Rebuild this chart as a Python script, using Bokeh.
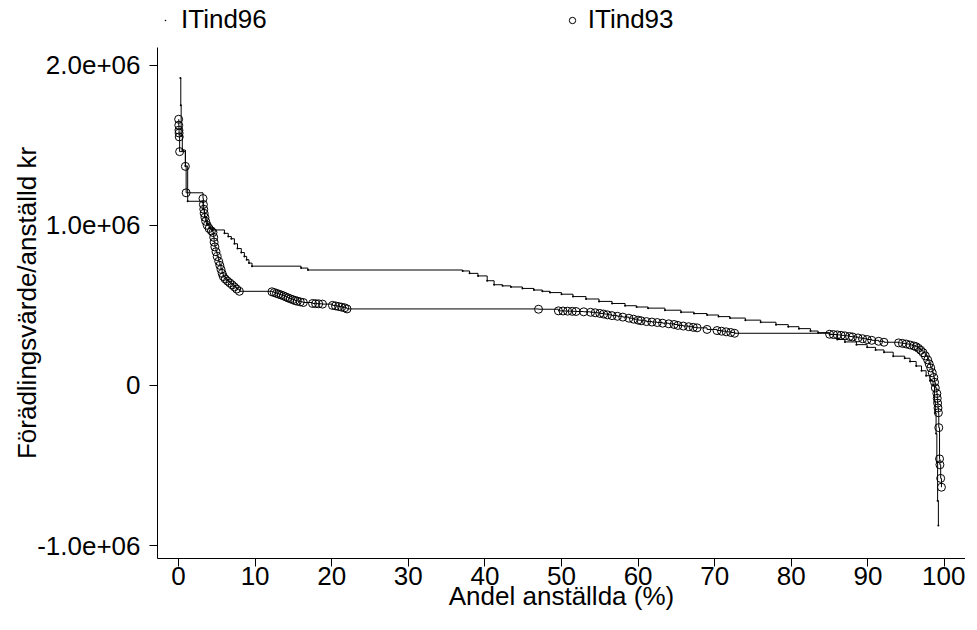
from bokeh.plotting import figure
from bokeh.layouts import column
from bokeh.models import Legend, LegendItem, FixedTicker, Range1d
from bokeh.embed import file_html
from bokeh.resources import INLINE

# ITind93: share of employees (%) and value added per employee (kr)
it93_x = [0.02, 0.04, 0.06, 0.08, 0.10, 0.15, 0.9, 1.0, 3.2,
          3.25, 3.3, 3.35, 3.45, 3.55, 3.75, 4.0, 4.3, 4.5, 4.6, 4.65, 4.75, 4.9,
          5.05, 5.25, 5.4, 5.55, 5.7, 5.85, 6.1, 6.4, 6.7, 7.0, 7.3, 7.6, 7.95,
          12.2, 12.5, 12.8, 13.1, 13.4, 13.7, 14.0, 14.3, 14.6, 14.9, 15.2, 15.5,
          15.9, 16.3, 17.5, 17.9, 18.3, 18.8, 20.1, 20.5, 20.9, 21.3, 21.7, 22.0,
          47.0, 49.6, 50.2, 50.8, 51.4, 51.9, 52.9, 53.8, 54.4, 55.0, 55.5, 56.0,
          56.6, 57.3, 58.0, 58.8, 59.4, 60.0, 60.4, 61.1, 61.8, 62.5, 63.2, 64.0,
          64.7, 65.2, 65.9, 66.6, 67.2, 67.7, 69.0, 70.3, 70.9, 71.5, 72.1, 72.6,
          85.0, 85.5, 86.0, 86.5, 87.0, 87.6, 88.0, 88.7, 89.3, 89.9, 90.5, 91.4,
          92.1, 94.0, 94.5, 95.0, 95.5, 96.0, 96.3, 96.6, 96.9, 97.2, 97.5, 97.8,
          98.0, 98.2, 98.4, 98.6, 98.7, 98.8, 99.0, 99.05, 99.1, 99.15, 99.2,
          99.25, 99.35, 99.4, 99.5, 99.6]
it93_y = [1662000, 1625000, 1594000, 1576000, 1552000, 1460000, 1368000, 1203000, 1167000,
          1130000, 1100000, 1075000, 1050000, 1025000, 1000000, 980000, 965000, 955000,
          925000, 895000, 865000, 835000,
          805000, 775000, 750000, 725000, 700000, 680000, 665000, 652000, 640000, 628000,
          615000, 602000, 588000,
          585000, 580000, 575000, 570000, 565000, 560000, 553000, 547000, 541000, 536000,
          531000, 527000,
          522000, 518000, 512000, 511000, 510000, 508000, 500000, 497000, 493000, 489000,
          485000, 478000,
          476000, 466000, 465000, 464000, 463000, 462000, 460000, 457000, 454000, 450000,
          446000, 441000,
          436000, 432000, 427000, 420000, 414000, 408000, 404000, 399000, 396000, 393000,
          389000, 385000,
          381000, 375000, 371000, 367000, 363000, 360000, 350000, 343000, 339000, 335000,
          331000, 326000,
          320000, 318000, 316000, 313000, 310000, 306000, 303000, 297000, 292000, 287000,
          282000, 276000,
          270000, 266000, 263000, 259000, 253000, 247000, 242000, 232000, 220000, 205000,
          185000, 160000,
          135000, 110000, 80000, 50000, 20000, -15000, -50000, -80000, -110000, -140000,
          -170000,
          -263000, -458000, -495000, -580000, -635000]

# ITind96
it96_x = [0.25, 0.3, 0.35, 0.5, 0.9, 1.2, 3.2, 3.4, 3.7, 4.1, 4.5, 6.0, 6.5, 6.9, 7.3,
          7.7, 8.2, 8.6, 8.9, 9.2, 9.6, 16.0, 16.9, 37.1, 38.0, 39.1, 40.3, 41.2, 42.3,
          43.4, 44.9, 46.4, 47.5, 48.5, 50.0, 51.5, 53.2, 54.9, 56.6, 58.3, 59.8, 61.3,
          63.5, 65.6, 67.3, 69.0, 70.5, 72.0, 74.0, 76.0, 78.0, 79.6, 81.0, 82.5, 83.5,
          85.0, 86.0, 87.0, 88.5, 89.9, 91.0, 92.1, 93.3, 94.8, 95.5, 96.3, 97.0, 97.6,
          98.1, 98.5, 98.7, 98.8, 98.9, 99.0, 99.1, 99.2]
it96_y = [1920000, 1750000, 1560000, 1470000, 1370000, 1150000, 1100000, 1050000, 1010000,
          985000, 971000, 950000, 930000, 916000, 885000, 855000, 830000, 806000, 785000,
          764000, 745000, 733000, 721000, 715000, 700000, 684000, 654000, 629000, 622000,
          615000, 606000, 596000, 588000, 580000, 570000, 555000, 540000, 525000, 512000,
          498000, 490000, 483000, 470000, 458000, 449000, 440000, 430000, 421000, 408000,
          395000, 380000, 367000, 355000, 340000, 330000, 318000, 287000, 272000, 255000,
          238000, 222000, 208000, 183000, 170000, 150000, 122000, 92000, 61000, 30000, 0,
          -100000, -171000, -300000, -476000, -720000, -874000]

series_names = ["ITind96", "ITind93"]
x_ticks = [0, 10, 20, 30, 40, 50, 60, 70, 80, 90, 100]
y_ticks = [-1000000, 0, 1000000, 2000000]
y_tick_labels = {-1000000: "-1.0e+06", 0: "0", 1000000: "1.0e+06", 2000000: "2.0e+06"}

FONT = "Liberation Sans"
FS = "26px"
W = 965

# ---- legend strip above the plot (its ranges keep the marks themselves out of view) ----
lg = figure(width=W, height=47, output_backend="svg", toolbar_location=None,
            min_border=0, x_axis_type=None, y_axis_type=None,
            x_range=Range1d(-2.74, 102.74), y_range=Range1d(5000000, 6000000))
lg.outline_line_color = None
lg.xgrid.visible = False
lg.ygrid.visible = False
k96 = lg.scatter(it96_x, it96_y, size=8, marker="dot", fill_color="black",
                 line_color="black", line_width=1)
k93 = lg.scatter(it93_x, it93_y, size=8, marker="circle", fill_color=None,
                 line_color="black", line_width=1)
legend = Legend(items=[LegendItem(label=series_names[0], renderers=[k96]),
                       LegendItem(label=series_names[1], renderers=[k93])],
                orientation="horizontal", location=(0, 12),
                glyph_width=16, glyph_height=16, label_standoff=8, spacing=297,
                padding=0, margin=0, border_line_alpha=0, background_fill_alpha=0,
                label_text_font=FONT, label_text_font_size=FS, label_text_color="black")
lg.add_layout(legend, "center")

# ---- main plot ----
p = figure(width=W, height=567, output_backend="svg", toolbar_location=None,
           x_range=Range1d(-2.74, 102.74), y_range=Range1d(-1080000, 2110000),
           min_border_left=157, min_border_right=0, min_border_top=0,
           min_border_bottom=56)
p.outline_line_color = None
p.xgrid.visible = False
p.ygrid.visible = False

p.step(it96_x, it96_y, mode="after", line_color="black", line_width=1)
p.scatter(it96_x, it96_y, size=8, marker="dot", fill_color="black",
          line_color="black", line_width=1)
p.step(it93_x, it93_y, mode="after", line_color="black", line_width=1)
p.scatter(it93_x, it93_y, size=8, marker="circle", fill_color=None,
          line_color="black", line_width=1)

for ax in (p.xaxis[0], p.yaxis[0]):
    ax.major_tick_out = 8
    ax.major_tick_in = 0
    ax.minor_tick_out = 0
    ax.minor_tick_in = 0
    ax.axis_line_color = "black"
    ax.major_tick_line_color = "black"
    ax.major_label_text_font = FONT
    ax.major_label_text_font_size = FS
    ax.major_label_text_color = "black"
    ax.axis_label_text_font = FONT
    ax.axis_label_text_font_size = FS
    ax.axis_label_text_font_style = "normal"
    ax.axis_label_text_color = "black"

p.xaxis.ticker = FixedTicker(ticks=x_ticks)
p.yaxis.ticker = FixedTicker(ticks=y_ticks)
p.yaxis.major_label_overrides = y_tick_labels
p.yaxis.major_label_orientation = "horizontal"
p.xaxis.axis_label = "Andel anställda (%)"
p.yaxis.axis_label = "Förädlingsvärde/anställd kr"
p.xaxis.major_label_standoff = 0
p.xaxis.axis_label_standoff = -7
p.yaxis.major_label_standoff = 9
p.yaxis.axis_label_standoff = -8

layout = column(lg, p, spacing=0)
open("out.html", "w").write(file_html(layout, INLINE))
